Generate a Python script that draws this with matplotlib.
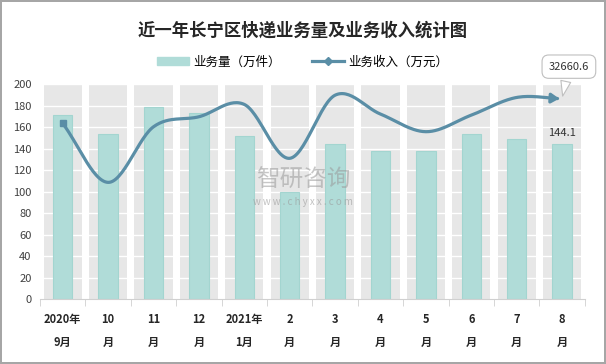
import numpy as np
import matplotlib.pyplot as plt
from matplotlib.patches import Patch
from matplotlib.lines import Line2D

plt.rcParams['font.family'] = ['Noto Sans CJK SC', 'DejaVu Sans']

# data
months = ["2020年\n9月", "10\n月", "11\n月", "12\n月", "2021年\n1月", "2\n月",
          "3\n月", "4\n月", "5\n月", "6\n月", "7\n月", "8\n月"]
volume = [171.4, 153.5, 179.2, 173.0, 151.6, 100.1, 144.7, 138.2, 137.6, 153.5, 149.4, 144.1]  # 万件
revenue = [28650, 19040, 28100, 29730, 31745, 22960, 33250, 30170, 27300, 30000, 32880, 32660.6]  # 万元
y_ticks = list(range(0, 201, 20))

BAR_C = '#b0dcd8'
LINE_C = '#5a8ea6'


def catmull_rom(x, y, n=30):
    # smooth curve through the points, like the spreadsheet "smoothed line"
    px = np.concatenate([[2 * x[0] - x[1]], x, [2 * x[-1] - x[-2]]])
    py = np.concatenate([[2 * y[0] - y[1]], y, [2 * y[-1] - y[-2]]])
    xs, ys = [], []
    t = np.linspace(0, 1, n, endpoint=False)
    for i in range(1, len(px) - 2):
        for arr, out in ((px, xs), (py, ys)):
            p0, p1, p2, p3 = arr[i - 1], arr[i], arr[i + 1], arr[i + 2]
            out.extend(0.5 * ((2 * p1) + (-p0 + p2) * t
                              + (2 * p0 - 5 * p1 + 4 * p2 - p3) * t ** 2
                              + (-p0 + 3 * p1 - 3 * p2 + p3) * t ** 3))
    xs.append(x[-1])
    ys.append(y[-1])
    return np.array(xs), np.array(ys)


fig = plt.figure(figsize=(6.06, 3.64), dpi=100)
fig.patch.set_edgecolor('#a6a6a6')
fig.patch.set_linewidth(1.5)
ax = fig.add_axes([0.066, 0.178, 0.899, 0.59])

x = np.arange(len(months))
# gray category bands
ax.bar(x, [200] * len(x), width=0.845, color='#e7e7e7', zorder=0)
for t in y_ticks[1:]:
    ax.axhline(t, color='white', lw=1, zorder=1)
ax.bar(x, volume, width=0.43, color=BAR_C, edgecolor='#a3d5d0', lw=0.8, zorder=2)
ax.text(x[-1], volume[-1] + 6, f"{volume[-1]}", ha='center', va='bottom',
        fontsize=8, color='#333333', zorder=5)

ax.set_xlim(-0.5, len(x) - 0.5)
ax.set_ylim(0, 200)
ax.set_yticks(y_ticks)
ax.tick_params(axis='y', length=0, labelsize=8, labelcolor='#404040', pad=6)
ax.set_xticks(x)
ax.set_xticklabels(months, fontsize=8, fontweight='bold', color='#262626', linespacing=2.0)
ax.tick_params(axis='x', which='major', length=0, pad=10)
ax.set_xticks(np.arange(-0.5, len(x), 1), minor=True)
ax.tick_params(axis='x', which='minor', length=5, color='#d0d0d0')
for s in ['top', 'right', 'left']:
    ax.spines[s].set_visible(False)
ax.spines['bottom'].set_color('#d0d0d0')

# revenue line on hidden secondary axis
ax2 = ax.twinx()
ax2.set_ylim(0, 35000)
ax2.axis('off')
sx, sy = catmull_rom(x.astype(float), np.array(revenue, dtype=float))
ax2.plot(sx[:-4], sy[:-4], color=LINE_C, lw=2.3, solid_capstyle='round', zorder=4)
ax2.plot(x[0], revenue[0], marker='s', ms=5, color=LINE_C, zorder=4)
ax2.annotate('', xy=(sx[-1], sy[-1]), xytext=(sx[-6], sy[-6]),
             arrowprops=dict(arrowstyle='-|>,head_length=0.45,head_width=0.28',
                             color=LINE_C, lw=2.3), zorder=4)
ax2.annotate(f"{revenue[-1]}", xy=(x[-1], revenue[-1]), xytext=(x[-1] + 0.15, 37900),
             ha='center', va='center', fontsize=8, color='#333333',
             bbox=dict(boxstyle='round,pad=0.6', fc='white', ec='#bfbfbf', lw=0.8),
             arrowprops=dict(arrowstyle='wedge,tail_width=0.9', fc='white', ec='#bfbfbf',
                             lw=0.8, shrinkB=2),
             annotation_clip=False, zorder=6)

# watermark
fig.text(0.5, 0.505, "智研咨询", ha='center', va='center', fontsize=17, color='#9a9a9a', alpha=0.55)
fig.text(0.5, 0.445, "w w w . c h y x x . c o m", ha='center', va='center', fontsize=7,
         color='#9a9a9a', alpha=0.6)

fig.suptitle("近一年长宁区快递业务量及业务收入统计图", y=0.94, fontsize=12.5,
             fontweight='bold', color='#262626')
handles = [Patch(facecolor=BAR_C, edgecolor=BAR_C),
           Line2D([0], [0], color=LINE_C, lw=2.3, marker='D', ms=4)]
fig.legend(handles, ["业务量（万件）", "业务收入（万元）"], loc='center', ncol=2,
           bbox_to_anchor=(0.5, 0.83), frameon=False, fontsize=9, handlelength=2.5,
           columnspacing=2.5, handletextpad=0.4)

fig.savefig('out.png', dpi=100)
